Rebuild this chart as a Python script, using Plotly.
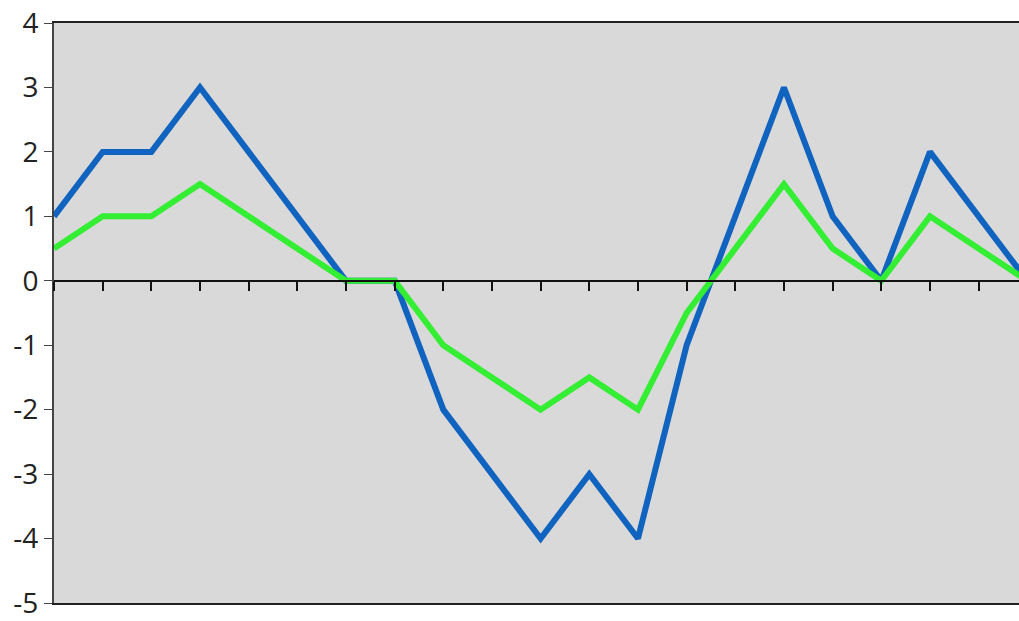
import plotly.graph_objects as go

# Sample positions and the two series
x_index = list(range(21))
series_a = [1, 2, 2, 3, 2, 1, 0, 0, -2, -3, -4, -3, -4, -1, 1, 3, 1, 0, 2, 1, 0]
series_b = [0.5, 1, 1, 1.5, 1, 0.5, 0, 0, -1, -1.5, -2, -1.5, -2, -0.5, 0.5, 1.5, 0.5, 0, 1, 0.5, 0]

y_ticks = [4, 3, 2, 1, 0, -1, -2, -3, -4, -5]
y_tick_labels = ["4", "3", "2", "1", "0", "-1", "-2", "-3", "-4", "-5"]

fig = go.Figure()
# first series on the framed axis, second on the zero-line axis (drawn on top)
fig.add_trace(go.Scatter(x=x_index, y=series_a, mode="lines",
                         line=dict(color="#1063BF", width=6), xaxis="x"))
fig.add_trace(go.Scatter(x=x_index, y=series_b, mode="lines",
                         line=dict(color="#33EE33", width=6), xaxis="x2"))

x_range = [0, 19.83]

fig.update_layout(
    width=1019, height=621,
    margin=dict(l=54, r=0, t=23, b=12),
    paper_bgcolor="white",
    plot_bgcolor="#D9D9D9",
    showlegend=False,
    font=dict(family="Open Sans", size=28, color="#222222"),
    xaxis=dict(range=x_range, showgrid=False, zeroline=False,
               showline=True, linecolor="#222222", linewidth=2, mirror=True,
               showticklabels=False, ticks=""),
    xaxis2=dict(range=x_range, matches="x", overlaying="x", anchor="free",
                position=5 / 9, side="bottom", showgrid=False, zeroline=False,
                showline=True, linecolor="#111111", linewidth=1.5,
                ticks="outside", tickvals=x_index, ticklen=9, tickwidth=1.5,
                tickcolor="#111111", showticklabels=False),
    yaxis=dict(range=[-5, 4], showgrid=False, zeroline=False,
               showline=True, linecolor="#444444", linewidth=2,
               ticks="outside", ticklen=8, tickwidth=1, tickcolor="#444444",
               tickvals=y_ticks, ticktext=y_tick_labels,
               ticklabeloverflow="allow"),
)

fig.write_html("out.html")
